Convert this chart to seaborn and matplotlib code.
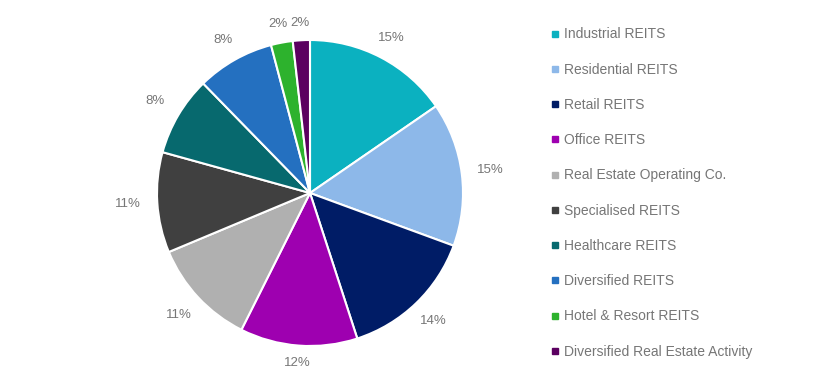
import matplotlib
matplotlib.use("Agg")
import numpy as np
import matplotlib.pyplot as plt
from matplotlib.lines import Line2D
import seaborn as sns

# Sector split (percent)
sectors = [
    "Industrial REITS",
    "Residential REITS",
    "Retail REITS",
    "Office REITS",
    "Real Estate Operating Co.",
    "Specialised REITS",
    "Healthcare REITS",
    "Diversified REITS",
    "Hotel & Resort REITS",
    "Diversified Real Estate Activity",
]
shares = [15.4, 15.2, 14.4, 12.4, 11.3, 10.6, 8.4, 8.2, 2.3, 1.8]
colors = ["#0BB1C0", "#8DB8E9", "#001C66", "#9E00B0", "#B0B0B0",
          "#404040", "#07696E", "#2470C0", "#2DB22D", "#5B0060"]

sns.set_theme(style="white")
plt.rcParams["font.family"] = ["Liberation Sans", "DejaVu Sans"]
palette = sns.color_palette(colors)
text_grey = "#767676"

fig = plt.figure(figsize=(8.38, 3.87), dpi=100)
ax = fig.add_axes([157 / 838, 41 / 387, 306 / 838, 306 / 387])

wedges, texts, autotexts = ax.pie(
    shares,
    colors=palette,
    startangle=90,
    counterclock=False,
    autopct="%.0f%%",
    pctdistance=1.16,
    wedgeprops=dict(edgecolor="white", linewidth=1.5),
    textprops=dict(color=text_grey, fontsize=9.5),
)

# "outside end" labels: a bit further out at the sides than at top/bottom
for w, t in zip(wedges, autotexts):
    ang = np.deg2rad((w.theta1 + w.theta2) / 2)
    r = 1.11 + 0.08 * abs(np.cos(ang))
    t.set_position((r * np.cos(ang), r * np.sin(ang)))

ax.set_xlim(-1, 1)
ax.set_ylim(-1, 1)
ax.set_aspect("equal")
ax.axis("off")

handles = [Line2D([], [], marker="s", linestyle="none", markersize=5,
                  markerfacecolor=c, markeredgecolor=c) for c in palette]
fig.legend(handles, sectors, loc="upper left", bbox_to_anchor=(538 / 838, 1 - 15 / 387),
           frameon=False, fontsize=10, labelcolor=text_grey,
           handlelength=0.6, handletextpad=0.4, labelspacing=1.53)

fig.savefig("out.png", dpi=100)
